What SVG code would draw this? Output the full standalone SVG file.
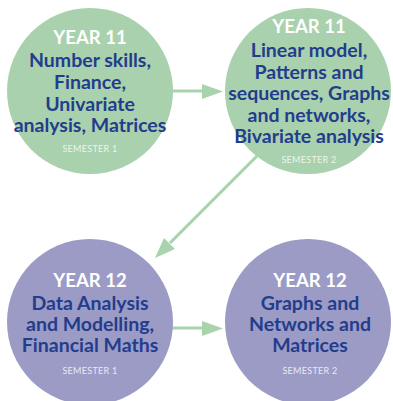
<svg xmlns="http://www.w3.org/2000/svg" width="393" height="401" viewBox="0 0 393 401">
<style>
.g{fill:#a9d1ad}
.p{fill:#9b9bc6}
.yr{font-family:Lato,"Liberation Sans",sans-serif;font-weight:bold;font-size:18.5px;fill:#ffffff;text-anchor:middle}
.t{font-family:Lato,"Liberation Sans",sans-serif;font-weight:bold;font-size:19.5px;fill:#233d8c;text-anchor:middle}
.s{font-family:Lato,"Liberation Sans",sans-serif;font-size:9px;fill:#ffffff;fill-opacity:0.8;text-anchor:middle;letter-spacing:0.3px}
.c{stroke:#a9d3ad;stroke-width:3;fill:none}
.h{fill:#a9d3ad}
</style>
<g id="connectors">
<line class="c" x1="173" y1="91" x2="205" y2="91"/>
<path class="h" d="M202,84 L223,91.5 L202,99 Z"/>
<line class="c" x1="257" y1="156" x2="170" y2="243"/>
<path class="h" d="M164,238 L155,258 L175,249 Z"/>
<line class="c" x1="172" y1="328" x2="205" y2="328"/>
<path class="h" d="M202,321 L223,328.5 L202,336 Z"/>
</g>
<g id="node-y11s1">
<circle class="g" cx="90" cy="91" r="83"/>
<text class="yr" x="90" y="44">YEAR 11</text>
<text class="t" x="90" y="67">Number skills,</text>
<text class="t" x="90" y="89">Finance,</text>
<text class="t" x="90" y="111">Univariate</text>
<text class="t" x="90" y="132">analysis, Matrices</text>
<text class="s" x="90" y="152">SEMESTER 1</text>
</g>
<g id="node-y11s2">
<circle class="g" cx="308" cy="91" r="83"/>
<text class="yr" x="309" y="33">YEAR 11</text>
<text class="t" x="309" y="57">Linear model,</text>
<text class="t" x="309" y="79">Patterns and</text>
<text class="t" x="309" y="100">sequences, Graphs</text>
<text class="t" x="309" y="122">and networks,</text>
<text class="t" x="309" y="143">Bivariate analysis</text>
<text class="s" x="309" y="163">SEMESTER 2</text>
</g>
<g id="node-y12s1">
<circle class="p" cx="90" cy="322" r="83"/>
<text class="yr" x="90" y="287">YEAR 12</text>
<text class="t" x="90" y="310">Data Analysis</text>
<text class="t" x="90" y="331">and Modelling,</text>
<text class="t" x="90" y="352">Financial Maths</text>
<text class="s" x="90" y="374">SEMESTER 1</text>
</g>
<g id="node-y12s2">
<circle class="p" cx="308" cy="322" r="83"/>
<text class="yr" x="310" y="287">YEAR 12</text>
<text class="t" x="310" y="310">Graphs and</text>
<text class="t" x="310" y="331">Networks and</text>
<text class="t" x="310" y="352">Matrices</text>
<text class="s" x="310" y="374">SEMESTER 2</text>
</g>
</svg>
